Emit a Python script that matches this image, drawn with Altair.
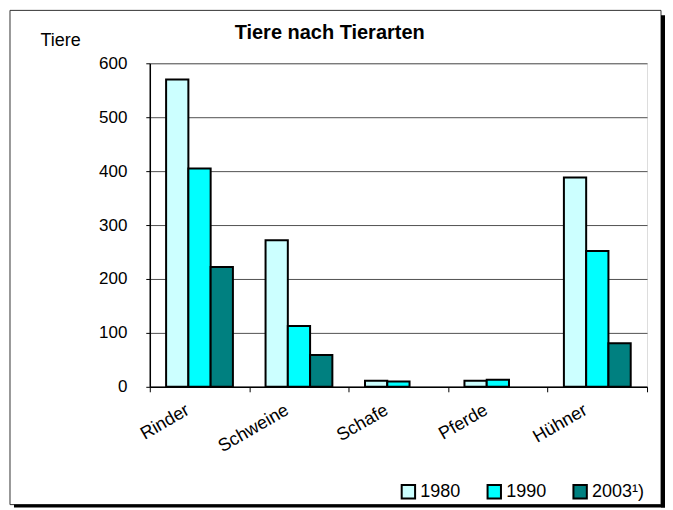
import altair as alt
import pandas as pd

categories = ["Rinder", "Schweine", "Schafe", "Pferde", "Hühner"]
years = ["1980", "1990", "2003¹)"]
v1980 = [570, 272, 11, 11, 388]
v1990 = [405, 113, 10, 13, 252]
v2003 = [222, 59, None, None, 81]
colors = ["#CCFFFF", "#00FFFF", "#008080"]

rows = []
for i, c in enumerate(categories):
    for y, vals in zip(years, [v1980, v1990, v2003]):
        if vals[i] is not None:
            rows.append({"Tierart": c, "Jahr": y, "Tiere": vals[i]})
df = pd.DataFrame(rows)

FONT = "Liberation Sans, Arial"

bars = alt.Chart(df).mark_bar(stroke="black", strokeWidth=2).encode(
    x=alt.X("Tierart:N", sort=categories,
            scale=alt.Scale(paddingInner=0, paddingOuter=0),
            axis=alt.Axis(title=None, labelAngle=-30, labelAlign="right",
                          labelBaseline="middle", labelPadding=17, labelOffset=-12,
                          tickBand="extent", tickSize=5, tickColor="black",
                          domainColor="black", domainWidth=1.5,
                          labelFontSize=18, labelFont=FONT, labelColor="black")),
    xOffset=alt.XOffset("Jahr:N", sort=years,
                        scale=alt.Scale(paddingInner=0, paddingOuter=0.733)),
    y=alt.Y("Tiere:Q", scale=alt.Scale(domain=[0, 600], nice=False),
            axis=alt.Axis(values=[0, 100, 200, 300, 400, 500, 600],
                          title="Tiere", titleAngle=0, titleX=-110, titleY=-18,
                          titleAlign="left", titleBaseline="alphabetic",
                          titleFontWeight="normal", titleFontSize=18, titleFont=FONT,
                          titleColor="black",
                          grid=True, gridColor="#505050", gridWidth=1,
                          tickSize=4, tickColor="black", labelPadding=19,
                          domainColor="black", domainWidth=1.5,
                          labelFontSize=17, labelFont=FONT, labelColor="black")),
    color=alt.Color("Jahr:N", sort=years,
                    scale=alt.Scale(domain=years, range=colors),
                    legend=alt.Legend(title=None, orient="none", direction="horizontal",
                                      legendX=250, legendY=420,
                                      symbolType="square", symbolSize=180,
                                      symbolStrokeColor="black", symbolStrokeWidth=2,
                                      symbolOpacity=1,
                                      labelFontSize=18, labelFont=FONT, labelColor="black",
                                      columnPadding=22, labelOffset=3)),
)

one = alt.Data(values=[{}])
frame = alt.Chart(one).mark_rect(fill="white", fillOpacity=0, stroke="#333333", strokeWidth=1).encode(
    x=alt.value(-140), x2=alt.value(512), y=alt.value(-53), y2=alt.value(442))
shadow_r = alt.Chart(one).mark_rect(fill="black").encode(
    x=alt.value(512), x2=alt.value(516), y=alt.value(-48), y2=alt.value(445))
shadow_b = alt.Chart(one).mark_rect(fill="black").encode(
    x=alt.value(-136), x2=alt.value(516), y=alt.value(442), y2=alt.value(445))

chart = alt.layer(frame, shadow_r, shadow_b, bars).properties(
    width=498, height=324,
    autosize=alt.AutoSizeParams(type="none"),
    padding={"left": 142, "top": 55, "right": 18, "bottom": 121},
    title=alt.Title("Tiere nach Tierarten", anchor="start", frame="group", dx=85,
                    offset=0, dy=49,
                    baseline="alphabetic", fontSize=20, fontWeight="bold",
                    font=FONT, color="black"),
).configure_view(fill="#FFFFCC", stroke="#808080", strokeWidth=2.5
).configure(background="white")

chart.save("out.html", embed_options={"renderer": "svg", "actions": False})
